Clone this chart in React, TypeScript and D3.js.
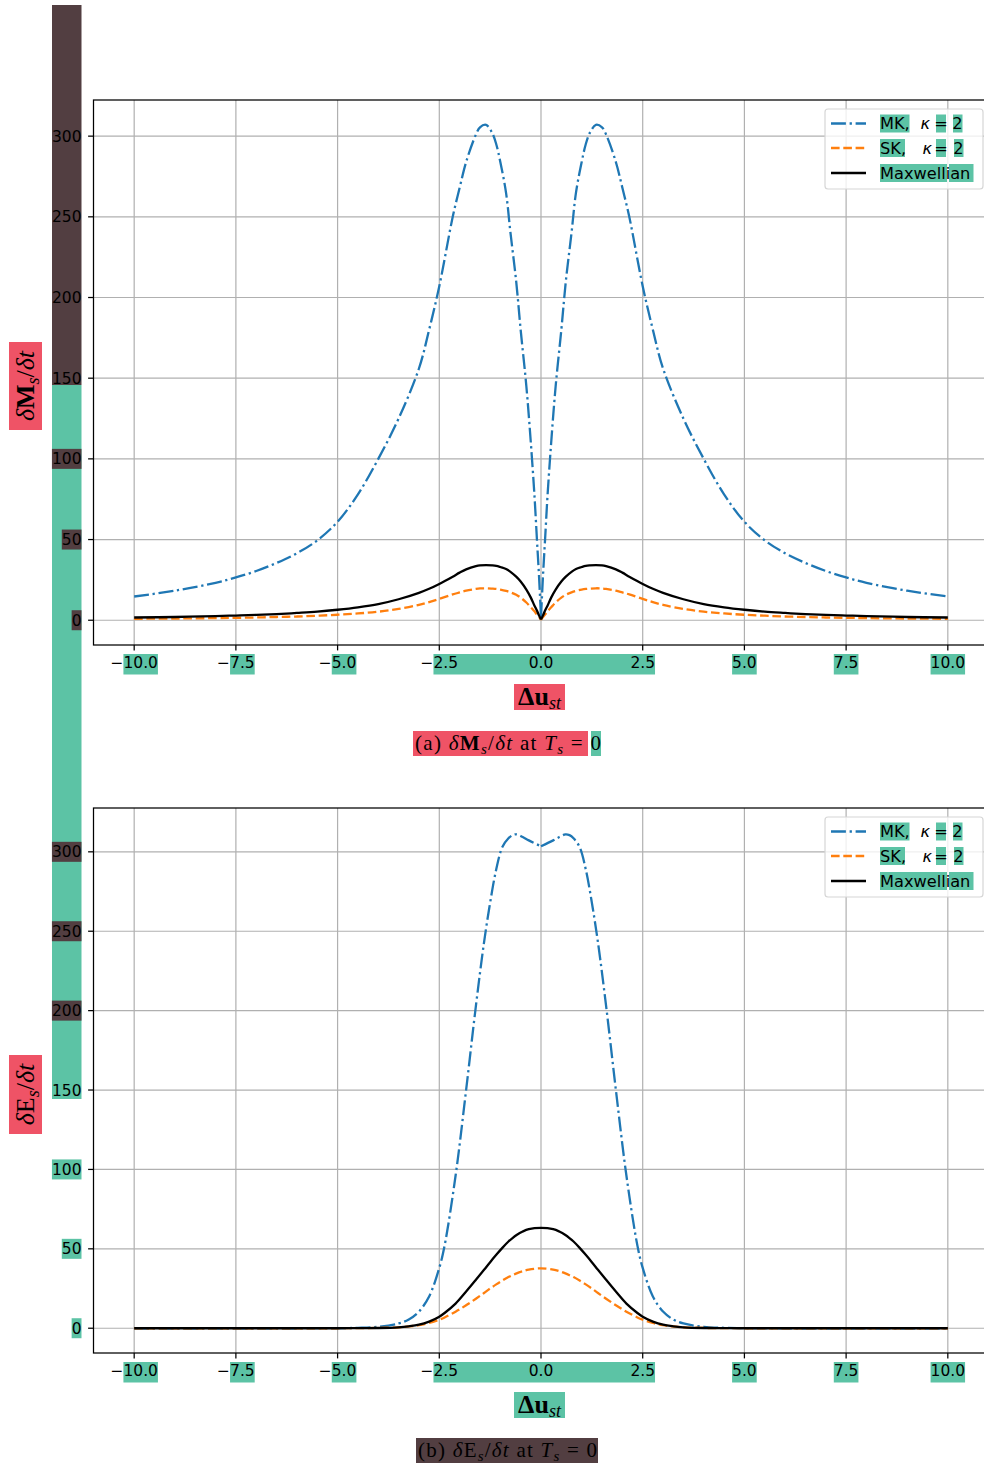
import React from 'react';
import * as d3 from 'd3';

// ---------- data ----------
const xTicks = [-10, -7.5, -5, -2.5, 0, 2.5, 5, 7.5, 10];
const yTicks = [0, 50, 100, 150, 200, 250, 300];

// panel (a): momentum exchange rate
const topX = [-10, -9, -8, -7.5, -7, -6.5, -6, -5.5, -5, -4.5, -4, -3.5, -3, -2.75, -2.5, -2.17, -2, -1.84, -1.6, -1.5, -1.35, -1.2, -1.1, -1, -0.86, -0.75, -0.61, -0.5, -0.36, -0.25, -0.16, -0.1, -0.05,
  0,
  0.05, 0.1, 0.16, 0.25, 0.36, 0.5, 0.61, 0.75, 0.86, 1, 1.1, 1.2, 1.35, 1.5, 1.6, 1.84, 2, 2.17, 2.5, 2.75, 3, 3.5, 4, 4.5, 5, 5.5, 6, 6.5, 7, 7.5, 8, 9, 10];
const topMK = [14.7, 18.3, 23.2, 26.5, 30.5, 35.5, 41.5, 49.5, 61, 78, 100, 125, 156, 180, 207, 250, 268, 284, 301, 305.5, 307, 302, 295, 284, 265, 240, 210, 180, 145, 110, 77, 50, 28,
  2,
  28, 50, 77, 110, 145, 180, 210, 240, 265, 284, 295, 302, 307, 305.5, 301, 284, 268, 250, 207, 180, 156, 125, 100, 78, 61, 49.5, 41.5, 35.5, 30.5, 26.5, 23.2, 18.3, 14.7];
const topSK = [0.9, 1.05, 1.3, 1.5, 1.7, 2, 2.3, 2.8, 3.4, 4.2, 5.3, 7, 9.5, 11.2, 13.2, 16, 17.2, 18.3, 19.4, 19.7, 19.8, 19.6, 19.4, 19, 18.2, 17.3, 15.8, 14, 11, 8, 5.5, 3.5, 2,
  0.3,
  2, 3.5, 5.5, 8, 11, 14, 15.8, 17.3, 18.2, 19, 19.4, 19.6, 19.8, 19.7, 19.4, 18.3, 17.2, 16, 13.2, 11.2, 9.5, 7, 5.3, 4.2, 3.4, 2.8, 2.3, 2, 1.7, 1.5, 1.3, 1.05, 0.9];
const topMax = [1.7, 2, 2.6, 2.9, 3.3, 3.8, 4.5, 5.3, 6.5, 8, 10, 13, 17, 19.5, 22.5, 27, 29.5, 31.5, 33.5, 34, 34.2, 34, 33.7, 33, 31.8, 30, 27, 24, 19, 14, 9, 6, 3,
  0.5,
  3, 6, 9, 14, 19, 24, 27, 30, 31.8, 33, 33.7, 34, 34.2, 34, 33.5, 31.5, 29.5, 27, 22.5, 19.5, 17, 13, 10, 8, 6.5, 5.3, 4.5, 3.8, 3.3, 2.9, 2.6, 2, 1.7];

// panel (b): energy exchange rate
const botX = [-10, -7.5, -6, -5, -4.5, -4, -3.5, -3.25, -3, -2.75, -2.5, -2.37, -2.1, -1.85, -1.6, -1.4, -1.25, -1.1, -0.95, -0.8, -0.7, -0.6, -0.45, -0.3,
  0,
  0.3, 0.45, 0.6, 0.7, 0.8, 0.95, 1.1, 1.25, 1.4, 1.6, 1.85, 2.1, 2.37, 2.5, 2.75, 3, 3.25, 3.5, 4, 4.5, 5, 6, 7.5, 10];
const botMK = [0, 0, 0, 0.05, 0.25, 0.9, 3, 5.5, 10.5, 20, 38, 52, 96, 148, 203, 243, 268, 289, 303, 308.5, 310.5, 311, 309.3, 307.2,
  303.5,
  307.2, 309.3, 311, 310.5, 308.5, 303, 289, 268, 243, 203, 148, 96, 52, 38, 20, 10.5, 5.5, 3, 0.9, 0.25, 0.05, 0, 0, 0];
const botSK = [0, 0, 0, 0, 0.05, 0.2, 0.6, 1.1, 1.9, 3.3, 5.4, 6.8, 10.4, 14.3, 18.6, 22.2, 25, 27.6, 30, 32.2, 33.4, 34.5, 35.9, 36.9,
  37.7,
  36.9, 35.9, 34.5, 33.4, 32.2, 30, 27.6, 25, 22.2, 18.6, 14.3, 10.4, 6.8, 5.4, 3.3, 1.9, 1.1, 0.6, 0.2, 0.05, 0, 0, 0, 0];
const botMax = [0, 0, 0, 0, 0.03, 0.15, 0.6, 1.2, 2.2, 4.2, 7.3, 9.6, 15.5, 22.8, 30.5, 36.8, 41.6, 46.2, 50.6, 54.6, 56.8, 58.7, 60.9, 62.4,
  63.2,
  62.4, 60.9, 58.7, 56.8, 54.6, 50.6, 46.2, 41.6, 36.8, 30.5, 22.8, 15.5, 9.6, 7.3, 4.2, 2.2, 1.2, 0.6, 0.15, 0.03, 0, 0, 0, 0];

const seriesNames = ['MK', 'SK', 'Maxwellian'];
const seriesColors = ['#1f77b4', '#ff7f0e', '#000000'];

// ---------- style ----------
const TEAL = '#5cc3a5';
const RED = '#ef5366';
const BROWN = '#523e41';
const FS = 15.5;
const LFS = 16.2;
const SANS = 'DejaVu Sans';
const SERIF = 'Liberation Serif';

const W = 984, H = 1464;
const axL = 93.5, axR = 988.5;
const xScale = d3.scaleLinear().domain([-11, 11]).range([axL, axR]);

const fmtTick = (v: number) => (v < 0 ? '\u2212' : '') + Math.abs(v).toFixed(1);
const textW = (s: string) => {
  let w = 0;
  for (const c of s) w += c === '.' ? 0.318 : c === '\u2212' ? 0.838 : 0.636;
  return w * FS;
};

type Panel = {
  key: string;
  top: number; bottom: number; yDom: [number, number];
  xs: number[]; ys: number[][]; splitAtZero: boolean[];
  tickBoxes: { v: number; c: string }[];
};

const panels: Panel[] = [
  { key: 'a', top: 100, bottom: 645, yDom: [-15.35, 322.4], xs: topX, ys: [topMK, topSK, topMax], splitAtZero: [true, true, true],
    tickBoxes: [{ v: 100, c: BROWN }, { v: 50, c: BROWN }, { v: 0, c: BROWN }] },
  { key: 'b', top: 808, bottom: 1353, yDom: [-15.6, 327.6], xs: botX, ys: [botMK, botSK, botMax], splitAtZero: [true, false, false],
    tickBoxes: [{ v: 300, c: BROWN }, { v: 250, c: BROWN }, { v: 200, c: BROWN }, { v: 100, c: TEAL }, { v: 50, c: TEAL }, { v: 0, c: TEAL }] },
];

const dashes = ['14.9,3.7,2.3,3.7', '8.6,3.7', ''];

function PanelView({ p }: { p: Panel }) {
  const y = d3.scaleLinear().domain(p.yDom).range([p.bottom, p.top]);
  const line = d3.line<[number, number]>().x(d => xScale(d[0])).y(d => y(d[1])).curve(d3.curveCatmullRom.alpha(0.5));
  const clipId = 'clip-' + p.key;
  const lblY = p.bottom + 5.4 + 5.4;
  const boxes: { x0: number; x1: number }[] = [];
  const numSpan = (v: number) => {
    const s = fmtTick(v);
    const tw = textW(s);
    const cx = xScale(v);
    return { x0: cx - tw / 2 + (v < 0 ? 0.838 * FS : 0), x1: cx + tw / 2 };
  };
  xTicks.forEach(v => { if (Math.abs(v) > 2.5) boxes.push(numSpan(v)); });
  boxes.push({ x0: numSpan(-2.5).x0, x1: numSpan(2.5).x1 });

  const lgX = 825, lgY = p.top + 9, lgW = 158, lgH = 80;
  const rows = [p.top + 23.5, p.top + 48, p.top + 73];

  const pathFor = (ys: number[], split: boolean) => {
    const pts = p.xs.map((xv, j) => [xv, ys[j]] as [number, number]);
    if (!split) return line(pts) || '';
    const left = pts.filter(d => d[0] <= 0);
    const right = pts.filter(d => d[0] >= 0);
    return (line(left) || '') + ' ' + (line(right) || '');
  };

  return (
    <g>
      <defs>
        <clipPath id={clipId}><rect x={axL} y={p.top} width={axR - axL} height={p.bottom - p.top} /></clipPath>
      </defs>
      {xTicks.map(v => <line key={'gx' + v} x1={xScale(v)} x2={xScale(v)} y1={p.top} y2={p.bottom} stroke="#b0b0b0" strokeWidth={1.2} />)}
      {yTicks.map(v => <line key={'gy' + v} x1={axL} x2={axR} y1={y(v)} y2={y(v)} stroke="#b0b0b0" strokeWidth={1.2} />)}
      <g clipPath={`url(#${clipId})`}>
        {p.ys.map((ys, i) => (
          <path key={i} d={pathFor(ys, p.splitAtZero[i])} fill="none"
            stroke={seriesColors[i]} strokeWidth={2.3} strokeDasharray={dashes[i] || undefined} strokeLinejoin="round" />
        ))}
      </g>
      <rect x={axL} y={p.top} width={axR - axL} height={p.bottom - p.top} fill="none" stroke="#000" strokeWidth={1.25} />
      {xTicks.map(v => <line key={'tx' + v} x1={xScale(v)} x2={xScale(v)} y1={p.bottom} y2={p.bottom + 5.4} stroke="#000" strokeWidth={1.25} />)}
      {yTicks.map(v => <line key={'ty' + v} x1={axL - 5.4} x2={axL} y1={y(v)} y2={y(v)} stroke="#000" strokeWidth={1.25} />)}
      {p.tickBoxes.map(b => {
        const w = textW(String(b.v));
        return <rect key={'yb' + b.v} x={81.5 - w} y={y(b.v) - 10} width={w} height={20} fill={b.c} />;
      })}
      {boxes.map((b, i) => <rect key={'xb' + i} x={b.x0} y={p.bottom + 9} width={b.x1 - b.x0} height={20.5} fill={TEAL} />)}
      {xTicks.map(v => (
        <text key={'lx' + v} x={xScale(v)} y={lblY} dy="0.76em" textAnchor="middle" fontFamily={SANS} fontSize={FS}>{fmtTick(v)}</text>
      ))}
      {yTicks.map(v => (
        <text key={'ly' + v} x={81.5} y={y(v)} dy="0.36em" textAnchor="end" fontFamily={SANS} fontSize={FS}>{String(v)}</text>
      ))}
      {/* legend */}
      <rect x={lgX} y={lgY} width={lgW} height={lgH} rx={3} fill="#fff" fillOpacity={0.8} stroke="#d6d6d6" strokeWidth={1.2} />
      {rows.map((ry, i) => (
        <line key={'ll' + i} x1={831} x2={866} y1={ry} y2={ry} stroke={seriesColors[i]} strokeWidth={2.3} strokeDasharray={dashes[i] || undefined} />
      ))}
      <rect x={880} y={rows[0] - 9} width={29.5} height={18} fill={TEAL} />
      <rect x={936} y={rows[0] - 9} width={10} height={18} fill={TEAL} />
      <rect x={953} y={rows[0] - 9} width={9.5} height={18} fill={TEAL} />
      <rect x={880} y={rows[1] - 9} width={25} height={18} fill={TEAL} />
      <rect x={936} y={rows[1] - 9} width={10} height={18} fill={TEAL} />
      <rect x={954} y={rows[1] - 9} width={9.5} height={18} fill={TEAL} />
      <rect x={880} y={rows[2] - 9} width={67} height={18} fill={TEAL} />
      <rect x={949} y={rows[2] - 9} width={24.5} height={18} fill={TEAL} />
      <text x={880} y={rows[0]} dy="0.36em" fontFamily={SANS} fontSize={LFS}>{seriesNames[0] + ','}</text>
      <text x={920.5} y={rows[0]} dy="0.36em" fontFamily={SANS} fontSize={LFS} fontStyle="italic">κ</text>
      <text x={941} y={rows[0]} dy="0.36em" fontFamily={SANS} fontSize={LFS} textAnchor="middle">=</text>
      <text x={957.5} y={rows[0]} dy="0.36em" fontFamily={SANS} fontSize={LFS} textAnchor="middle">2</text>
      <text x={880} y={rows[1]} dy="0.36em" fontFamily={SANS} fontSize={LFS}>{seriesNames[1] + ','}</text>
      <text x={922.5} y={rows[1]} dy="0.36em" fontFamily={SANS} fontSize={LFS} fontStyle="italic">κ</text>
      <text x={941} y={rows[1]} dy="0.36em" fontFamily={SANS} fontSize={LFS} textAnchor="middle">=</text>
      <text x={958.5} y={rows[1]} dy="0.36em" fontFamily={SANS} fontSize={LFS} textAnchor="middle">2</text>
      <text x={880} y={rows[2]} dy="0.36em" fontFamily={SANS} fontSize={LFS}>{seriesNames[2]}</text>
    </g>
  );
}

export default function App() {
  return (
    <svg width={W} height={H} viewBox={`0 0 ${W} ${H}`} style={{ position: 'absolute', left: 0, top: 0, display: 'block', background: '#fff' }}
      xmlns="http://www.w3.org/2000/svg">
      <rect x={0} y={0} width={W} height={H} fill="#fff" />
      <rect x={52} y={5} width={29.5} height={380} fill={BROWN} />
      <rect x={52} y={385} width={29.5} height={714} fill={TEAL} />
      {panels.map(p => <PanelView key={p.key} p={p} />)}

      <rect x={9} y={342} width={33} height={88} fill={RED} />
      <text transform="translate(25.5,386) rotate(-90)" dy="0.32em" textAnchor="middle" fontFamily={SERIF} fontSize={26}>
        <tspan fontStyle="italic">δ</tspan><tspan fontWeight="bold">M</tspan><tspan fontStyle="italic" fontSize={18} dy={5}>s</tspan><tspan dy={-5}>/</tspan><tspan fontStyle="italic">δt</tspan>
      </text>
      <rect x={9} y={1055} width={33} height={79} fill={RED} />
      <text transform="translate(25.5,1094.5) rotate(-90)" dy="0.32em" textAnchor="middle" fontFamily={SERIF} fontSize={26}>
        <tspan fontStyle="italic">δ</tspan><tspan>E</tspan><tspan fontStyle="italic" fontSize={18} dy={5}>s</tspan><tspan dy={-5}>/</tspan><tspan fontStyle="italic">δt</tspan>
      </text>

      <rect x={514} y={684} width={51} height={26} fill={RED} />
      <text x={539.5} y={705} textAnchor="middle" fontFamily={SERIF} fontSize={26}>
        <tspan fontWeight="bold">Δu</tspan><tspan fontStyle="italic" fontSize={18} dy={4}>st</tspan>
      </text>
      <rect x={514} y={1392} width={51} height={26} fill={TEAL} />
      <text x={539.5} y={1413} textAnchor="middle" fontFamily={SERIF} fontSize={26}>
        <tspan fontWeight="bold">Δu</tspan><tspan fontStyle="italic" fontSize={18} dy={4}>st</tspan>
      </text>

      <rect x={413} y={731} width={175} height={25} fill={RED} />
      <rect x={591} y={731} width={10} height={25} fill={TEAL} />
      <text x={415} y={750} fontFamily={SERIF} fontSize={21} textLength={186} lengthAdjust="spacing">
        <tspan>(a) </tspan><tspan fontStyle="italic">δ</tspan><tspan fontWeight="bold">M</tspan><tspan fontStyle="italic" fontSize={15} dy={4}>s</tspan><tspan dy={-4}>/</tspan><tspan fontStyle="italic">δt</tspan><tspan> at </tspan><tspan fontStyle="italic">T</tspan><tspan fontStyle="italic" fontSize={15} dy={4}>s</tspan><tspan dy={-4}> = 0</tspan>
      </text>
      <rect x={416} y={1438} width={182} height={25} fill={BROWN} />
      <text x={418} y={1457} fontFamily={SERIF} fontSize={21} textLength={179} lengthAdjust="spacing">
        <tspan>(b) </tspan><tspan fontStyle="italic">δ</tspan><tspan>E</tspan><tspan fontStyle="italic" fontSize={15} dy={4}>s</tspan><tspan dy={-4}>/</tspan><tspan fontStyle="italic">δt</tspan><tspan> at </tspan><tspan fontStyle="italic">T</tspan><tspan fontStyle="italic" fontSize={15} dy={4}>s</tspan><tspan dy={-4}> = 0</tspan>
      </text>
    </svg>
  );
}
